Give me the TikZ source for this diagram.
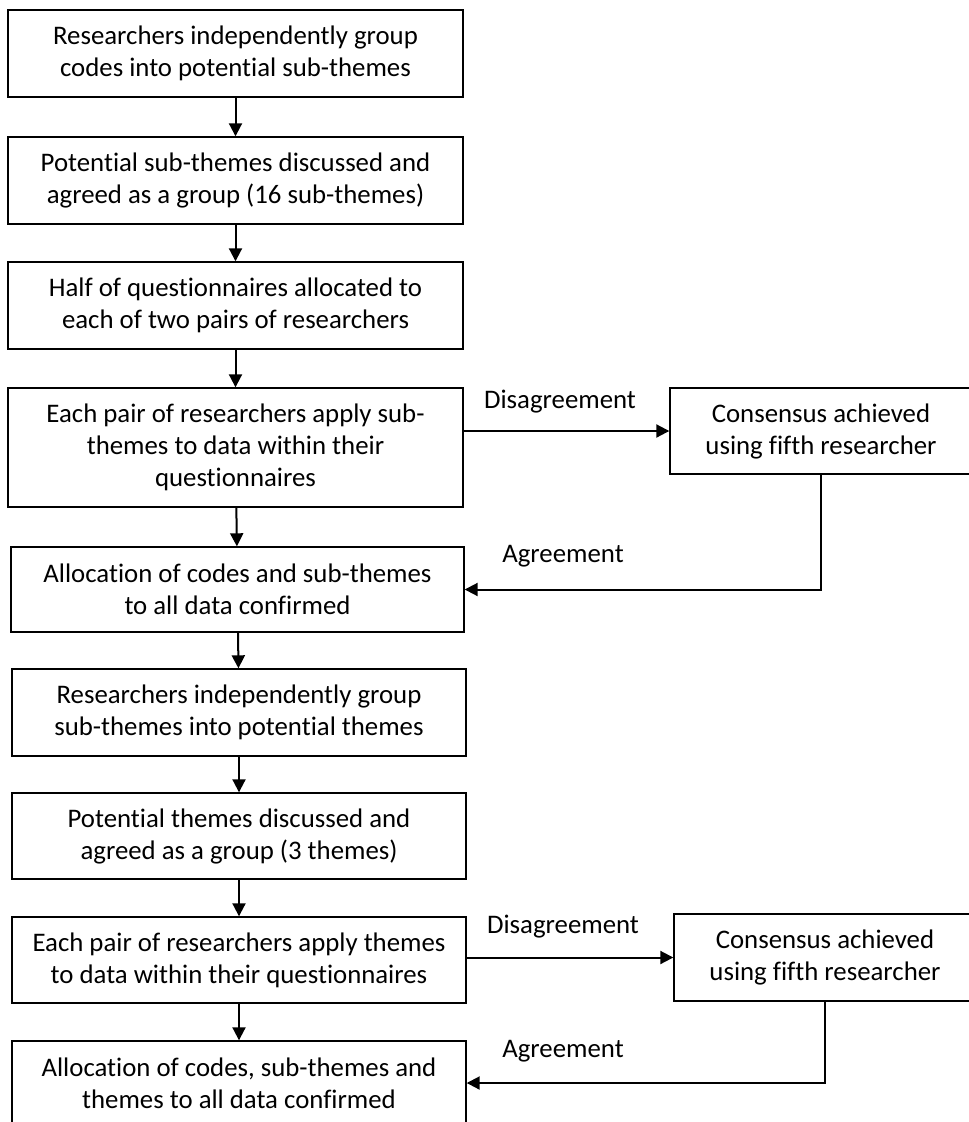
\documentclass[tikz,border=0pt]{standalone}
\usepackage{fontspec}
\setmainfont[Ligatures=NoCommon]{Carlito}
\usetikzlibrary{arrows.meta}
\begin{document}
\begin{tikzpicture}[x=1pt,y=-1pt,
  box/.style={draw=black, line width=1.4pt, rectangle, inner sep=0pt, align=center,
    font=\fontsize{26.8}{32}\selectfont},
  lbl/.style={inner sep=0pt, anchor=base, font=\fontsize{26.8}{32}\selectfont},
  conn/.style={draw=black, line width=2pt, -{Triangle[length=13pt,width=13pt]}}]
\useasboundingbox (0,0) rectangle (969,1122);
\clip (0,0) rectangle (969,1122);
\node[box, minimum width=455pt, minimum height=87pt] (b1) at (235.5,53.5)
  {Researchers independently group\\codes into potential sub-themes};
\node[box, minimum width=455pt, minimum height=87pt] (b2) at (235.5,180.5)
  {Potential sub-themes discussed and\\agreed as a group (16 sub-themes)};
\node[box, minimum width=455pt, minimum height=87pt] (b3) at (235.5,305.5)
  {Half of questionnaires allocated to\\each of two pairs of researchers};
\node[box, minimum width=455pt, minimum height=119pt] (b4) at (235.5,447.5)
  {Each pair of researchers apply sub-\\themes to data within their\\questionnaires};
\node[box, minimum width=453pt, minimum height=85pt] (b5) at (237.5,589.5)
  {Allocation of codes and sub-themes\\to all data confirmed};
\node[box, minimum width=454pt, minimum height=87pt] (b6) at (239,712.5)
  {Researchers independently group\\sub-themes into potential themes};
\node[box, minimum width=454pt, minimum height=86pt] (b7) at (239,836)
  {Potential themes discussed and\\agreed as a group (3 themes)};
\node[box, minimum width=454pt, minimum height=86pt] (b8) at (239,960)
  {Each pair of researchers apply themes\\to data within their questionnaires};
\node[box, minimum width=454pt, minimum height=84pt] (b9) at (239,1083)
  {Allocation of codes, sub-themes and\\themes to all data confirmed};
\node[box, minimum width=302pt, minimum height=86pt] (c1) at (821,431)
  {Consensus achieved\\using fifth researcher};
\node[box, minimum width=302pt, minimum height=87pt] (c2) at (825,957.5)
  {Consensus achieved\\using fifth researcher};
\draw[conn] (b1) -- (b2);
\draw[conn] (b2) -- (b3);
\draw[conn] (b3) -- (b4);
\draw[conn] (b4) -- (b5);
\draw[conn] (b5) -- (b6);
\draw[conn] (b6) -- (b7);
\draw[conn] (b7) -- (b8);
\draw[conn] (b8) -- (b9);
\draw[conn] (b4.east |- c1.west) -- (c1.west);
\draw[conn] (c1.south) |- (b5.east);
\draw[conn] (b8.east |- c2.west) -- (c2.west);
\draw[conn] (c2.south) |- (b9.east);
\node[lbl] (d1) at (560,408) {Disagreement};
\node[lbl] (a1) at (563,562) {Agreement};
\node[lbl] (d2) at (563,933) {Disagreement};
\node[lbl] (a2) at (563,1057) {Agreement};
\end{tikzpicture}
\end{document}
